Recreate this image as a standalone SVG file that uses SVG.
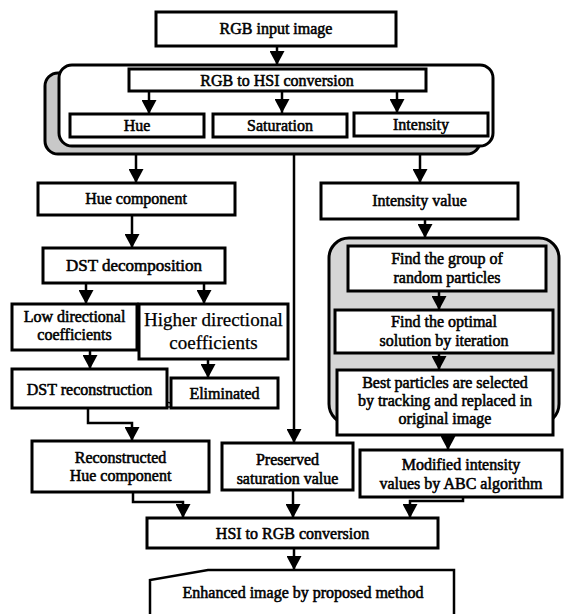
<svg xmlns="http://www.w3.org/2000/svg" width="566" height="614" viewBox="0 0 566 614">
<style>
.b{fill:#fff;stroke:#000;stroke-width:3}
.t{font-family:"Liberation Serif","Times New Roman",serif;font-size:16px;font-weight:normal;text-anchor:middle;fill:#000;stroke:#000;stroke-width:0.55}
.r{stroke-width:0.25}
.c{fill:none;stroke:#000;stroke-width:2.5}
</style>
<defs>
<marker id="ah" viewBox="0 0 14 15" refX="14" refY="7.5" markerWidth="14" markerHeight="15" markerUnits="userSpaceOnUse" orient="auto">
<path d="M0,0 L14,7.5 L0,15 z" fill="#000"/>
</marker>
</defs>
<rect width="566" height="614" fill="#fff"/>

<g id="hsi-container">
<rect x="45" y="73" width="435" height="81" rx="13" fill="#c8c8c8" stroke="#000" stroke-width="3"/>
<rect x="59" y="65" width="434" height="81" rx="13" fill="#fff" stroke="#000" stroke-width="3"/>
</g>
<g id="abc-container">
<rect x="329" y="238" width="230" height="186" rx="20" fill="#d6d6d6" stroke="#000" stroke-width="3"/>
</g>

<g id="connectors">
<line class="c" x1="277" y1="46" x2="277" y2="65" marker-end="url(#ah)"/>
<line class="c" x1="149" y1="91" x2="149" y2="114" marker-end="url(#ah)"/>
<line class="c" x1="282" y1="91" x2="282" y2="113" marker-end="url(#ah)"/>
<line class="c" x1="397" y1="91" x2="397" y2="113" marker-end="url(#ah)"/>
<line class="c" x1="136" y1="154" x2="136" y2="183" marker-end="url(#ah)"/>
<line class="c" x1="294" y1="154" x2="294" y2="443" marker-end="url(#ah)"/>
<line class="c" x1="420" y1="154" x2="420" y2="183" marker-end="url(#ah)"/>
<line class="c" x1="132" y1="215" x2="132" y2="248" marker-end="url(#ah)"/>
<line class="c" x1="86" y1="283" x2="86" y2="304" marker-end="url(#ah)"/>
<line class="c" x1="204" y1="283" x2="204" y2="304" marker-end="url(#ah)"/>
<line class="c" x1="90" y1="350" x2="90" y2="369" marker-end="url(#ah)"/>
<line class="c" x1="208" y1="359" x2="208" y2="378" marker-end="url(#ah)"/>
<polyline class="c" points="88,408 88,423 132,423 132,441" marker-end="url(#ah)"/>
<line class="c" x1="425" y1="219" x2="425" y2="238" marker-end="url(#ah)"/>
<line class="c" x1="439" y1="291" x2="439" y2="310" marker-end="url(#ah)"/>
<line class="c" x1="439" y1="353" x2="439" y2="370" marker-end="url(#ah)"/>
<line class="c" x1="448" y1="435" x2="448" y2="450" marker-end="url(#ah)"/>
<polyline class="c" points="133,492 133,502 183,502 183,518" marker-end="url(#ah)"/>
<line class="c" x1="293" y1="490" x2="293" y2="518" marker-end="url(#ah)"/>
<polyline class="c" points="463,497 463,501 410,501 410,518" marker-end="url(#ah)"/>
<line class="c" x1="294" y1="548" x2="294" y2="570" marker-end="url(#ah)"/>
<polygon points="145,407 157,400 171,403 171,407" fill="#fff" stroke="#000" stroke-width="1.5"/>
</g>

<g id="rgb-input"><rect class="b" x="156" y="12" width="240" height="34"/><text class="t" x="276" y="34">RGB input image</text></g>
<g id="rgb-to-hsi"><rect class="b" x="129" y="69" width="297" height="22"/><text class="t" x="277" y="86">RGB to HSI conversion</text></g>
<g id="hue"><rect class="b" x="70" y="114" width="134" height="23"/><text class="t" x="137" y="131">Hue</text></g>
<g id="saturation"><rect class="b" x="213" y="114" width="134" height="23"/><text class="t" x="280" y="131">Saturation</text></g>
<g id="intensity"><rect class="b" x="354" y="113" width="134" height="23"/><text class="t" x="421" y="130">Intensity</text></g>

<g id="hue-component"><rect class="b" x="38" y="183" width="197" height="32"/><text class="t" x="136" y="204">Hue component</text></g>
<g id="dst-decomposition"><rect class="b" x="43" y="248" width="182" height="35"/><text class="t" x="134" y="271" style="font-size:17px">DST decomposition</text></g>
<g id="low-directional"><rect class="b" x="12" y="304" width="125" height="46"/><text class="t" x="74.5" y="322">Low directional</text><text class="t" x="74.5" y="340">coefficients</text></g>
<g id="higher-directional"><rect class="b" x="139" y="304" width="149" height="55"/><text class="t r" x="213.5" y="326" style="font-size:19px">Higher directional</text><text class="t r" x="213.5" y="349" style="font-size:19px">coefficients</text></g>
<g id="dst-reconstruction"><rect class="b" x="12" y="369" width="155" height="39"/><text class="t" x="89.5" y="395">DST reconstruction</text></g>
<g id="eliminated"><rect class="b" x="171" y="378" width="107" height="30"/><text class="t" x="224.5" y="399">Eliminated</text></g>
<g id="reconstructed-hue"><rect class="b" x="32" y="441" width="177" height="51"/><text class="t" x="120.5" y="463">Reconstructed</text><text class="t" x="120.5" y="481">Hue component</text></g>
<g id="preserved-saturation"><rect class="b" x="222" y="443" width="131" height="47"/><text class="t" x="287.5" y="465">Preserved</text><text class="t" x="287.5" y="484">saturation value</text></g>

<g id="intensity-value"><rect class="b" x="321" y="183" width="197" height="36"/><text class="t" x="419.5" y="206">Intensity value</text></g>
<g id="find-group"><rect class="b" x="348" y="246" width="198" height="45"/><text class="t" x="447" y="264">Find the group of</text><text class="t" x="447" y="283">random particles</text></g>
<g id="find-optimal"><rect class="b" x="335" y="310" width="218" height="43"/><text class="t" x="444" y="327">Find the optimal</text><text class="t" x="444" y="346">solution by iteration</text></g>
<g id="best-particles"><rect class="b" x="337" y="370" width="216" height="65"/><text class="t" x="445" y="388">Best particles are selected</text><text class="t" x="445" y="406">by tracking and replaced in</text><text class="t" x="445" y="424">original image</text></g>
<g id="modified-intensity"><rect class="b" x="360" y="450" width="202" height="47"/><text class="t" x="461" y="470">Modified intensity</text><text class="t" x="461" y="489">values by ABC algorithm</text></g>

<g id="hsi-to-rgb"><rect class="b" x="147" y="518" width="291" height="30"/><text class="t" x="292.5" y="539">HSI to RGB conversion</text></g>
<g id="enhanced"><path d="M150,620 L150,580 L208,570 L454,570 L454,620" fill="#fff" stroke="#000" stroke-width="2.5"/><text class="t" x="303" y="598">Enhanced image by proposed method</text></g>
</svg>
